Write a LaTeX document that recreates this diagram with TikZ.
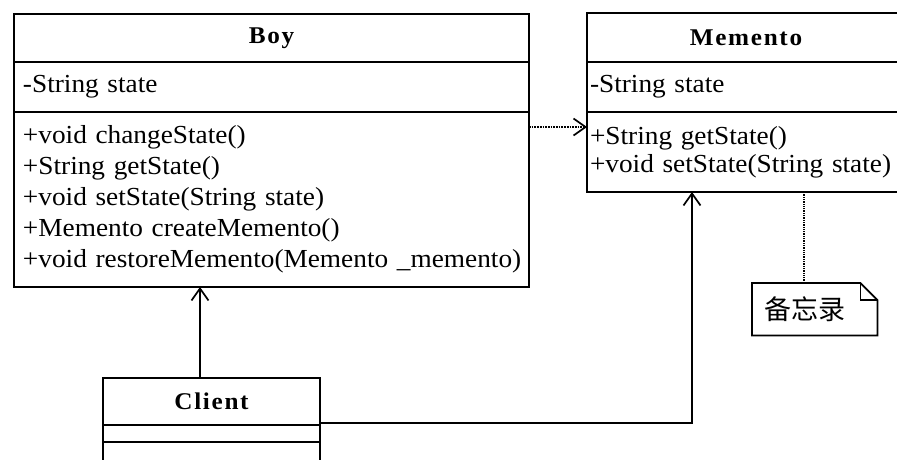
\documentclass[tikz,border=0pt]{standalone}
\usepackage{fontspec}
\setmainfont{Liberation Serif}[FakeStretch=1.05]
\newfontfamily\titlefont{Liberation Serif Bold}[FakeStretch=1.05, LetterSpace=7]
\newfontfamily\cjk{Noto Sans CJK SC}
\usepackage{tikz}
\usetikzlibrary{arrows.meta, positioning, calc}

\begin{document}
\begin{tikzpicture}[
    x=1pt, y=-1pt,
    uml/.style={draw, line width=1.7pt, outer sep=0pt, inner sep=0pt},
    cname/.style={uml, font=\titlefont\fontsize{24}{26}\selectfont},
    cbody/.style={uml, align=left, font=\fontsize{26}{31}\selectfont},
    assoc/.style={-{Straight Barb[length=12pt, width=17pt]}, line width=1.7pt},
    dep/.style={assoc, densely dotted},
    link/.style={line width=1.3pt, densely dotted}
]
\useasboundingbox (0,0) rectangle (897,459);
\fill[white] (0,0) rectangle (897,459);
\clip (0,0) rectangle (897,459);

% --- Boy ---
\node[cname, minimum width=515, minimum height=48, anchor=north west] (boy) at (14,14) {Boy};
\node[cbody, minimum width=515, minimum height=50, inner xsep=9pt, text width=497,
    below=0pt of boy] (boyattr) {-String state};
\node[cbody, minimum width=515, minimum height=175, inner xsep=9pt, text width=497,
    below=0pt of boyattr] (boyops)
    {+void changeState()\\+String getState()\\+void setState(String state)\\
     +Memento createMemento()\\\mbox{+void restoreMemento(Memento \_memento)}};

% --- Memento ---
\node[cname, minimum width=318, minimum height=49, anchor=north west] (mem) at (587,13) {Memento};
\node[cbody, minimum width=318, minimum height=50, inner xsep=3pt, text width=312,
    below=0pt of mem] (memattr) {-String state};
\node[cbody, font=\fontsize{26}{28}\selectfont, minimum width=318, minimum height=80,
    inner xsep=3pt, text width=312, below=0pt of memattr] (memops)
    {+String getState()\\\mbox{+void setState(String state)}};

% --- Client ---
\node[cname, minimum width=217, minimum height=47, anchor=north west] (client) at (103,378) {Client};
\node[uml, minimum width=217, minimum height=17, below=0pt of client] (clientattr) {};
\node[uml, minimum width=217, minimum height=40, below=0pt of clientattr] (clientops) {};

% --- note ---
\node[font=\cjk\fontsize{27}{29}\selectfont, minimum width=125, minimum height=52,
    inner sep=0pt, text width=101, align=left, anchor=north west] (note) at (752,283) {备忘录};
\draw[line width=1.7pt] (note.north west) -- ($(note.north east)+(-17,0)$)
    -- ($(note.north east)+(0,17)$) -- (note.south east) -- (note.south west) -- cycle;
\draw[line width=1.2pt] ($(note.north east)+(-17,0)$) -- ($(note.north east)+(-17,17)$)
    -- ($(note.north east)+(0,17)$);
\coordinate (notelink) at ($(note.north west)+(52,0)$);

% Boy uses Memento
\draw[dep] ($(boyops.north east)+(0,15)$) -- ($(memops.north west)+(0,15)$);

% Client -> Boy
\draw[assoc] ($(client.north west)+(97,0)$) coordinate (cb) -- (cb |- boyops.south);

% Client -> Memento
\draw[assoc] ($(client.south east)+(0,-2)$) -| ($(memops.south west)+(105,0)$);

% note link
\draw[link] (notelink) -- (notelink |- memops.south);

\end{tikzpicture}
\end{document}
